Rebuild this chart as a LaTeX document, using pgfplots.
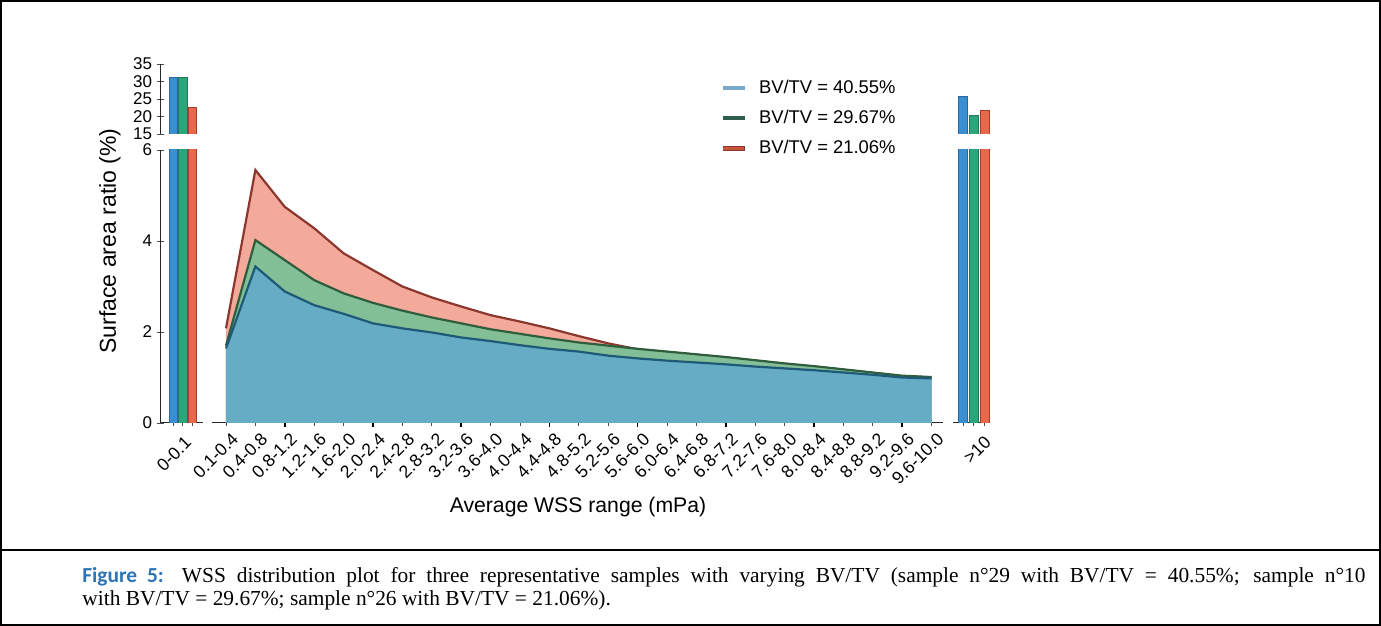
\documentclass[border=0pt]{standalone}
\usepackage{pgfplots}
\usepackage{pgfplotstable}
\pgfplotsset{compat=1.18}
\usepackage{fontspec}
\setmainfont{Liberation Sans}
\newfontfamily\timesfont{Liberation Serif}
\newfontfamily\calibri{Carlito}

\definecolor{barblue}{RGB}{58,143,208}
\definecolor{barblueD}{RGB}{40,105,165}
\definecolor{bargreen}{RGB}{43,165,122}
\definecolor{bargreenD}{RGB}{30,120,90}
\definecolor{barred}{RGB}{232,104,76}
\definecolor{barredD}{RGB}{165,62,45}
\definecolor{areablue}{RGB}{101,172,196}
\definecolor{lineblue}{RGB}{30,90,120}
\definecolor{areagreen}{RGB}{130,190,150}
\definecolor{linegreen}{RGB}{46,94,62}
\definecolor{areared}{RGB}{244,170,154}
\definecolor{linered}{RGB}{140,55,45}
\definecolor{legblue}{RGB}{122,168,202}
\definecolor{leggreen}{RGB}{47,94,80}
\definecolor{legred}{RGB}{200,85,58}
\definecolor{figblue}{RGB}{46,116,181}

\pgfplotstableread{
x blue green red
0 1.64 1.70 2.08
1 3.44 4.02 5.56
2 2.89 3.58 4.75
3 2.59 3.14 4.28
4 2.40 2.85 3.73
5 2.19 2.64 3.36
6 2.08 2.47 3.00
7 1.99 2.32 2.76
8 1.88 2.19 2.56
9 1.80 2.06 2.37
10 1.71 1.96 2.23
11 1.63 1.86 2.08
12 1.57 1.77 1.91
13 1.48 1.70 1.75
14 1.42 1.63 1.62
15 1.37 1.57 1.56
16 1.33 1.51 1.50
17 1.29 1.45 1.44
18 1.24 1.38 1.37
19 1.20 1.31 1.30
20 1.16 1.25 1.24
21 1.11 1.18 1.17
22 1.06 1.11 1.10
23 1.00 1.04 1.03
24 0.98 1.01 1.00
}\middata

\pgfplotsset{
  brk/.style={
    scale only axis, anchor=south west,
    tick style={black!70, line width=0.4pt},
    tick align=outside, major tick length=3.5pt,
    yticklabel style={font=\fontsize{8.5}{9}\selectfont, inner sep=1pt, xshift=-1pt},
    xticklabel style={font=\fontsize{8.8}{9}\selectfont, rotate=45, anchor=east, inner sep=1pt, yshift=-6.5pt, xshift=1pt},
    /pgf/number format/assume math mode=true,
  },
  noarrow/.style={
    axis line style={-, black!85, line width=0.5pt},
    every outer x axis line/.append style={-},
    every outer y axis line/.append style={-},
    every inner x axis line/.append style={-},
    every inner y axis line/.append style={-},
    x axis line style={-}, y axis line style={-},
  },
  sbar/.style={ybar, bar shift=0pt, bar width=0.85, line width=0.3pt},
}

\begin{document}
\begin{tikzpicture}
\path[use as bounding box] (0,0) rectangle (690.5pt,313pt);
\draw[line width=1.2pt] (0.6pt,0.6pt) rectangle (689.9pt,312.4pt);
\draw[line width=1.2pt] (0.6pt,38pt) -- (689.9pt,38pt);

% ---------- left, lower
\begin{axis}[brk, at={(80pt,101.5pt)}, width=21.5pt, height=136.5pt,
  xmin=-1.34, xmax=3.09, ymin=0, ymax=6,
  axis x line=bottom, axis y line=left, noarrow,
  ytick={0,2,4,6}, xtick={0,1,2}, xticklabels={{},{0-0.1},{}},
  xticklabel style={xshift=-2.5pt}]
\addplot[sbar, fill=barblue, draw=barblueD] coordinates {(0,31.3)};
\addplot[sbar, fill=bargreen, draw=bargreenD] coordinates {(1,31.2)};
\addplot[sbar, fill=barred, draw=barredD] coordinates {(2,22.5)};
\end{axis}

% ---------- left, upper
\begin{axis}[brk, at={(80pt,246pt)}, width=21.5pt, height=35pt,
  xmin=-1.34, xmax=3.09, ymin=15, ymax=35,
  axis x line=none, axis y line=left, noarrow,
  ytick={15,20,25,30,35}, xtick=\empty]
\addplot[sbar, fill=barblue, draw=barblueD] coordinates {(0,31.3)};
\addplot[sbar, fill=bargreen, draw=bargreenD] coordinates {(1,31.2)};
\addplot[sbar, fill=barred, draw=barredD] coordinates {(2,22.5)};
\end{axis}

% ---------- middle
\begin{axis}[brk, at={(106pt,101.5pt)}, width=365.5pt, height=136.5pt,
  xmin=-0.476, xmax=24.39, ymin=0, ymax=6,
  axis x line=bottom, axis y line=none, noarrow,
  xtick={0,...,24},
  xticklabels={0.1-0.4,0.4-0.8,0.8-1.2,1.2-1.6,1.6-2.0,2.0-2.4,2.4-2.8,2.8-3.2,3.2-3.6,3.6-4.0,4.0-4.4,4.4-4.8,4.8-5.2,5.2-5.6,5.6-6.0,6.0-6.4,6.4-6.8,6.8-7.2,7.2-7.6,7.6-8.0,8.0-8.4,8.4-8.8,8.8-9.2,9.2-9.6,9.6-10.0},
  extra x ticks={2,5,8,11,14,17,20,23}, extra x tick labels={},
  extra x tick style={tick style={black, line width=0.8pt}, major tick length=4.2pt},
  legend style={at={(0.6865,1.286)}, anchor=north west, draw=none, fill=none,
    font=\fontsize{9.2}{10}\selectfont, row sep=2.8pt, column sep=4pt},
  legend cell align=left]
\addplot[fill=areared, draw=none, forget plot] table[x=x,y=red] {\middata} \closedcycle;
\addplot[draw=linered, line width=1.1pt, forget plot] table[x=x,y=red] {\middata};
\addplot[fill=areagreen, draw=none, forget plot] table[x=x,y=green] {\middata} \closedcycle;
\addplot[draw=linegreen, line width=1.1pt, forget plot] table[x=x,y=green] {\middata};
\addplot[fill=areablue, draw=none, forget plot] table[x=x,y=blue] {\middata} \closedcycle;
\addplot[draw=lineblue, line width=1.1pt, forget plot] table[x=x,y=blue] {\middata};
\addlegendimage{legend image code/.code={\draw[line width=2pt, legblue] (0pt,0pt) -- (11pt,0pt);}}
\addlegendentry{BV/TV = 40.55\%}
\addlegendimage{legend image code/.code={\draw[line width=2pt, leggreen] (0pt,0pt) -- (11pt,0pt);}}
\addlegendentry{BV/TV = 29.67\%}
\addlegendimage{legend image code/.code={\draw[line width=2.4pt, linered] (0pt,0pt) -- (11pt,0pt); \draw[line width=1.4pt, legred] (0.3pt,0pt) -- (10.7pt,0pt);}}
\addlegendentry{BV/TV = 21.06\%}
\end{axis}

% ---------- right, lower
\begin{axis}[brk, at={(476.5pt,101.5pt)}, width=18.5pt, height=136.5pt,
  xmin=-0.926, xmax=2.5, ymin=0, ymax=6,
  axis x line=bottom, axis y line=none, noarrow,
  xtick={0,1,2}, xticklabels={{},{>10},{}},
  xticklabel style={xshift=0.5pt, yshift=-3pt}]
\addplot[sbar, fill=barblue, draw=barblueD] coordinates {(0,25.9)};
\addplot[sbar, fill=bargreen, draw=bargreenD] coordinates {(1,20.3)};
\addplot[sbar, fill=barred, draw=barredD] coordinates {(2,21.7)};
\end{axis}

% ---------- right, upper
\begin{axis}[brk, at={(476.5pt,246pt)}, width=18.5pt, height=35pt,
  xmin=-0.926, xmax=2.5, ymin=15, ymax=35, hide axis]
\addplot[sbar, fill=barblue, draw=barblueD] coordinates {(0,25.9)};
\addplot[sbar, fill=bargreen, draw=bargreenD] coordinates {(1,20.3)};
\addplot[sbar, fill=barred, draw=barredD] coordinates {(2,21.7)};
\end{axis}

% ---------- axis titles
\node[rotate=90, font=\fontsize{11.5}{12}\selectfont, inner sep=0pt] at (55pt,192.5pt) {Surface area ratio (\%)};
\node[font=\fontsize{10.6}{12}\selectfont, inner sep=0pt] at (289pt,59.5pt) {Average WSS range (mPa)};

% ---------- caption
\node[anchor=north west, inner sep=0pt, text width=641.5pt, align=justify,
  font=\timesfont\fontsize{10.7}{11.5}\selectfont] at (41pt,29.5pt)
  {{\calibri\bfseries\color{figblue}Figure 5:} WSS distribution plot for three representative samples with varying BV/TV (sample n°29 with BV/TV = 40.55\%; sample n°10\linebreak with BV/TV = 29.67\%; sample n°26 with BV/TV = 21.06\%).};
\end{tikzpicture}
\end{document}
